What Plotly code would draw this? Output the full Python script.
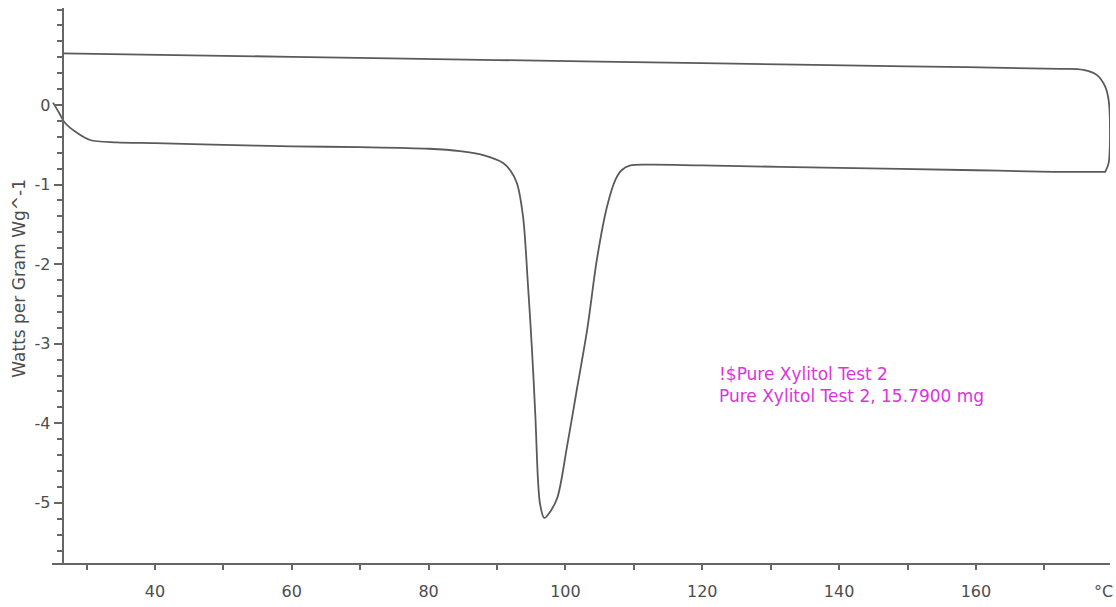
import plotly.graph_objects as go

# Heating scan (°C, W/g)
heating_T = [25.1, 26.0, 26.8, 28.6, 30.5, 34.4, 40, 50, 60, 70, 80, 84.6, 88.0,
             90.9, 92.0, 92.9, 93.8, 94.5, 95.1, 95.6, 96.0, 96.3, 96.9, 97.7, 98.8,
             100.2, 101.7, 103.2, 104.6, 106.1, 107.3, 108.2, 109.5, 112.4, 120, 140,
             160, 171.3, 178.9]
heating_W = [0.03, -0.10, -0.22, -0.35, -0.44, -0.47, -0.48, -0.50, -0.52, -0.53,
             -0.55, -0.58, -0.63, -0.73, -0.83, -0.98, -1.40, -2.23, -3.06, -3.90, -4.73,
             -5.02, -5.19, -5.12, -4.94, -4.31, -3.56, -2.81, -1.94, -1.27, -0.94,
             -0.82, -0.76, -0.75, -0.76, -0.79, -0.82, -0.84, -0.84]

# Return scan (°C, W/g)
cooling_T = [178.9, 179.4, 179.6, 179.4, 178.9, 177.7, 175.7, 172.3, 150, 120, 90, 60, 26.5]
cooling_W = [-0.84, -0.73, -0.35, 0.06, 0.23, 0.375, 0.44, 0.455, 0.485, 0.525, 0.565, 0.605, 0.65]

x_tickvals = [40, 60, 80, 100, 120, 140, 160]
x_minor = [30, 50, 70, 90, 110, 130, 150, 170]
y_tickvals = [0, -1, -2, -3, -4, -5]
y_minor = [round(1.2 - 0.2 * i, 1) for i in range(35)]

label_lines = ["!$Pure Xylitol Test 2", "Pure Xylitol Test 2, 15.7900 mg"]

LINE = "#5a5a5a"
TXT = "#4d4d4d"
X_RANGE = [24.95, 179.6]
Y_RANGE = [-5.756, 1.219]

fig = go.Figure()
fig.add_trace(go.Scatter(x=heating_T + cooling_T, y=heating_W + cooling_W, mode="lines",
                         line=dict(color=LINE, width=1.8, shape="spline", smoothing=0.9),
                         hoverinfo="skip", showlegend=False))

fig.update_layout(
    width=1116, height=607,
    margin=dict(l=52, r=6, t=8, b=41),
    paper_bgcolor="white", plot_bgcolor="white",
    font=dict(family="DejaVu Sans", color=TXT, size=15),
    xaxis=dict(range=X_RANGE, showgrid=False, zeroline=False, showline=True,
               linecolor="#666666", linewidth=2, ticks="outside", ticklen=5,
               tickwidth=1.5, tickcolor="#666666", tickvals=x_tickvals,
               ticktext=[str(v) for v in x_tickvals], tickfont=dict(size=16, color=TXT),
               ticklabelstandoff=8,
               minor=dict(tickvals=x_minor, ticks="outside", ticklen=5, tickwidth=1.5,
                          tickcolor="#666666", showgrid=False),
               fixedrange=True),
    yaxis=dict(range=Y_RANGE, showgrid=False, zeroline=False, showline=True,
               linecolor="#666666", linewidth=2, ticks="outside", ticklen=8,
               tickwidth=1.5, tickcolor="#666666", tickvals=y_tickvals,
               ticktext=[str(v) for v in y_tickvals], tickfont=dict(size=16, color=TXT),
               anchor="free", position=(26.5 - X_RANGE[0]) / (X_RANGE[1] - X_RANGE[0]),
               minor=dict(tickvals=y_minor, ticks="outside", ticklen=5, tickwidth=1.5,
                          tickcolor="#666666", showgrid=False),
               fixedrange=True),
)

fig.add_annotation(text="Watts per Gram Wg^-1", textangle=-90, xref="paper", yref="y",
                   x=-0.031, y=-2.18, xanchor="center", yanchor="middle", showarrow=False,
                   font=dict(size=17, color=TXT))
fig.add_annotation(text="°C", xref="x", yref="paper", x=178.6, y=0, yshift=-28,
                   xanchor="center", yanchor="middle", showarrow=False,
                   font=dict(size=16, color=TXT))
fig.add_annotation(text="<br>".join(label_lines), xref="x", yref="y", x=122.2, y=-3.52,
                   xanchor="left", yanchor="middle", align="left", showarrow=False,
                   font=dict(size=17, color="#dd33dd"))

fig.write_html("out.html")
